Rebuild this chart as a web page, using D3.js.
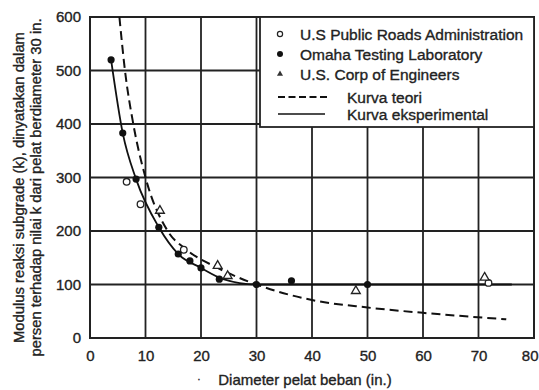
<!DOCTYPE html>
<html><head><meta charset="utf-8">
<script src="https://cdn.jsdelivr.net/npm/d3@7"></script>
<style>body{margin:0;background:#fff}svg{display:block}text{font-family:"Liberation Sans",Arial,sans-serif;fill:#222;stroke:#222;stroke-width:0.35px}</style>
</head><body><svg id="c" width="539" height="390"></svg>
<script>
// Data
const xTicks = [0,10,20,30,40,50,60,70,80];
const yTicks = [0,100,200,300,400,500,600];
const publicRoads = [[6.6,292],[9.1,250],[16.9,165],[71.8,103]];
const omaha = [[3.8,520],[5.9,383],[8.3,297],[12.4,207],[15.9,157],[18,144],[20,131],[23.3,110],[30,100],[36.3,107],[50,100]];
const corps = [[12.6,238],[23,135],[24.8,116],[47.9,88],[71.1,113]];
const kurvaTeori = [[5.3,600],[6.3,500],[7.8,400],[10,300],[14,200],[17.4,165],[23,131],[30,100],[40,71],[50,57],[60,47],[75,35]];
const kurvaEksperimental = [[3.8,520],[5.9,383],[8.3,297],[12.4,207],[15.9,157],[20,131],[24,110],[30,100],[76,100]];
const legendLabels = ["U.S Public Roads Administration","Omaha Testing Laboratory","U.S. Corp of Engineers","Kurva teori","Kurva eksperimental"];
const yTitle = ["Modulus reaksi subgrade (k), dinyatakan dalam","persen terhadap nilai k dari pelat berdiameter 30 in."];
const xTitle = "Diameter pelat beban (in.)";

const svg = d3.select("#c");
const L=90,R=534,T=17,B=338;
const x = d3.scaleLinear().domain([0,80]).range([L,R]);
const y = d3.scaleLinear().domain([0,600]).range([B,T]);
const ink="#222";

// grid
const g = svg.append("g");
g.selectAll("line.v").data(xTicks).join("line")
  .attr("x1",d=>x(d)).attr("x2",d=>x(d)).attr("y1",T).attr("y2",B)
  .attr("stroke",ink).attr("stroke-width",1.8);
g.selectAll("line.h").data(yTicks).join("line")
  .attr("x1",L).attr("x2",R).attr("y1",d=>y(d)).attr("y2",d=>y(d))
  .attr("stroke",ink).attr("stroke-width",1.8);
svg.append("rect").attr("x",L).attr("y",T).attr("width",R-L).attr("height",B-T)
  .attr("fill","none").attr("stroke",ink).attr("stroke-width",2);

// axes labels via d3 axes
const xa = svg.append("g").attr("transform",`translate(0,${B})`)
  .call(d3.axisBottom(x).tickValues(xTicks).tickSize(0).tickPadding(12));
const ya = svg.append("g").attr("transform",`translate(${L},0)`)
  .call(d3.axisLeft(y).tickValues(yTicks).tickSize(0).tickPadding(9));
[xa,ya].forEach(a=>{a.select(".domain").remove();
  a.selectAll("text").style("font-size","15px").attr("fill",ink).style("font-family","'Liberation Sans',Arial,sans-serif");});
xa.selectAll(".tick").filter(d=>d===80).select("text").attr("text-anchor","end").attr("dx","4");

// curves
const line = d3.line().x(d=>x(d[0])).y(d=>y(d[1])).curve(d3.curveMonotoneX);
svg.append("path").datum(kurvaEksperimental).attr("d",line).attr("fill","none")
  .attr("stroke","#111").attr("stroke-width",1.8);
svg.append("path").datum(kurvaTeori).attr("d",line).attr("fill","none")
  .attr("stroke","#111").attr("stroke-width",2).attr("stroke-dasharray","9,5");

// points
svg.selectAll("circle.pr").data(publicRoads).join("circle")
  .attr("cx",d=>x(d[0])).attr("cy",d=>y(d[1])).attr("r",3.3)
  .attr("fill","#fff").attr("stroke",ink).attr("stroke-width",1.3);
svg.selectAll("circle.om").data(omaha).join("circle")
  .attr("cx",d=>x(d[0])).attr("cy",d=>y(d[1])).attr("r",3.6).attr("fill","#111");
const tri = d3.symbol().type(d3.symbolTriangle).size(34);
svg.selectAll("path.co").data(corps).join("path")
  .attr("d",tri).attr("transform",d=>`translate(${x(d[0])},${y(d[1])})`)
  .attr("fill","#fff").attr("stroke",ink).attr("stroke-width",1.3);

// legend
const lg = svg.append("g");
lg.append("rect").attr("x",260).attr("y",T).attr("width",R-260).attr("height",110)
  .attr("fill","#fff").attr("stroke",ink).attr("stroke-width",1.8);
const rows=[34,54,74,97,114];
lg.append("circle").attr("cx",280).attr("cy",rows[0]).attr("r",2.6).attr("fill","#fff").attr("stroke",ink).attr("stroke-width",1.2);
lg.append("circle").attr("cx",280).attr("cy",rows[1]).attr("r",3).attr("fill","#111");
lg.append("path").attr("d",d3.symbol().type(d3.symbolTriangle).size(16)).attr("transform",`translate(280,${rows[2]})`).attr("fill","#333");
lg.append("line").attr("x1",278).attr("x2",328).attr("y1",rows[3]).attr("y2",rows[3]).attr("stroke","#111").attr("stroke-width",1.8).attr("stroke-dasharray","7,3.5");
lg.append("line").attr("x1",278).attr("x2",325).attr("y1",rows[4]).attr("y2",rows[4]).attr("stroke","#111").attr("stroke-width",1.5);
lg.selectAll("text").data(legendLabels).join("text")
  .attr("x",(d,i)=>i<3?300:347).attr("y",(d,i)=>rows[i]+5.5)
  .style("font-size","15.5px").text(d=>d);

// titles
svg.append("text").attr("x",305).attr("y",385).attr("text-anchor","middle").style("font-size","15px").text(xTitle);
svg.append("text").attr("x",199).attr("y",383).attr("text-anchor","middle").style("font-size","10px").text("·");
yTitle.forEach((t,i)=>{
  svg.append("text").attr("transform",`translate(${24+i*17},${(T+B)/2+10}) rotate(-90)`)
    .attr("text-anchor","middle").style("font-size","14.8px").text(t);
});
</script></body></html>
